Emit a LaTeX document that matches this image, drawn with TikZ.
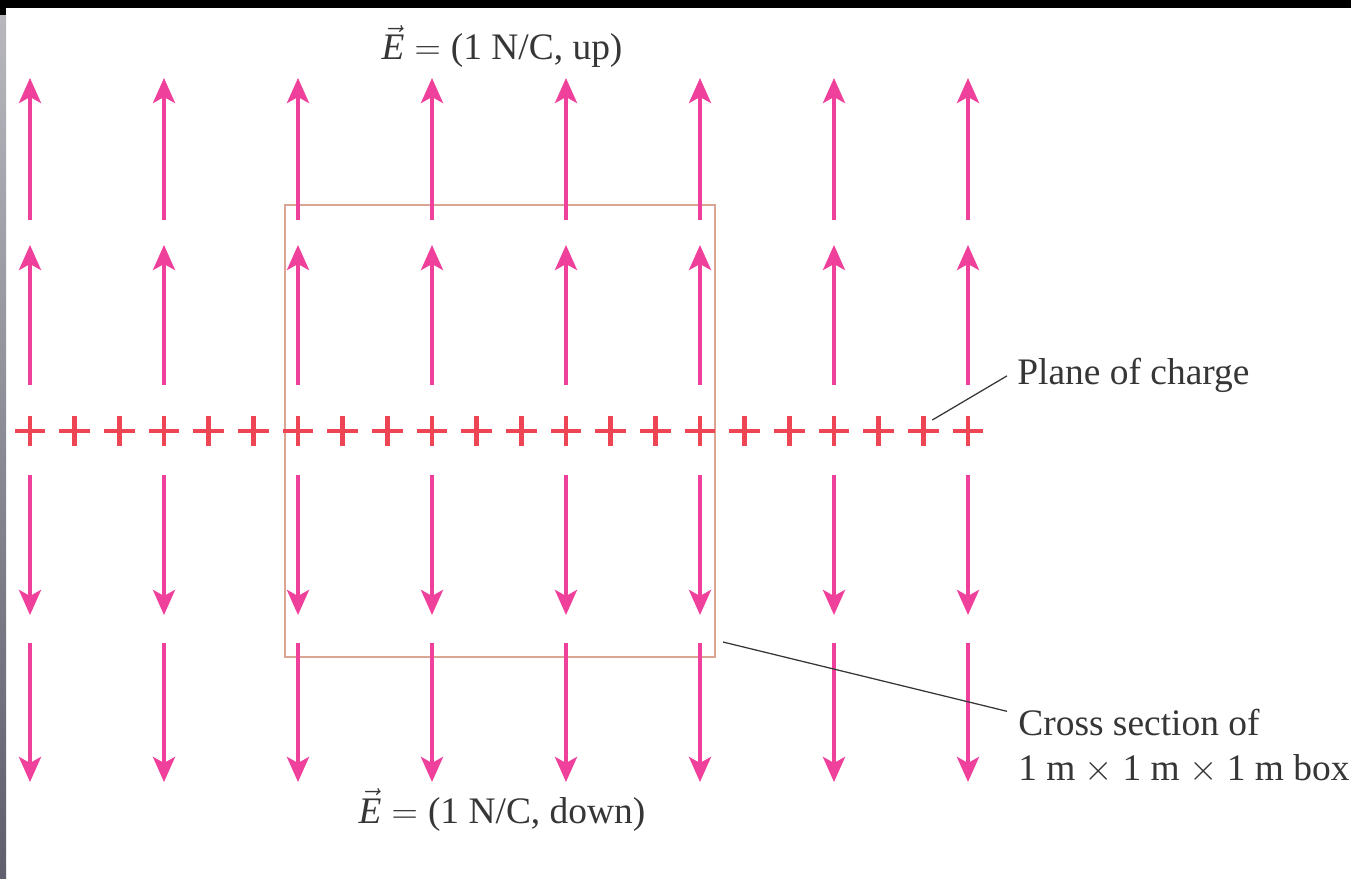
\documentclass[tikz,border=0pt]{standalone}
\usepackage{amsmath}
\usepackage{fontspec}
\setmainfont{Liberation Serif}
\usepackage{tikz}
\usetikzlibrary{arrows.meta,positioning,shapes.misc}
\definecolor{cA}{HTML}{EF409C}
\definecolor{cB}{HTML}{EE4555}
\definecolor{cC}{HTML}{DCA493}
\definecolor{cT}{HTML}{363636}
\definecolor{cS}{HTML}{5E5E6C}
\tikzset{
  fieldarrow/.style={-{Stealth[length=5mm,width=4.4mm,inset=1.2mm]},
              line width=.8mm,cA},
  charge/.style={cross out,draw=cB,line width=.9mm,rotate=45,
              minimum size=3.4mm,inner sep=0pt},
  crossbox/.style={draw=cC,line width=.4mm,minimum width=86mm,
              minimum height=90.4mm,inner sep=0pt},
  lbl/.style={text=cT,font=\fontsize{21.3}{25.6}\selectfont,inner sep=1mm},
  leader/.style={draw=cT,line width=.25mm},
}

\begin{document}
\begin{tikzpicture}[x=.2mm,y=-.2mm]
  \useasboundingbox (0,0) rectangle (1351,879);
  \fill[white] (0,0) rectangle (1351,879);
  \fill[black] (0,0) rectangle (1351,8);
  \fill[black] (0,8) rectangle (6,16);
  \shade[top color=cS!45,bottom color=cS] (0,16) rectangle (6,879);
  \node[crossbox] (cube) at (500,431) {};
  \foreach \c in {0,...,7}{
    \pgfmathsetmacro\x{30+134*\c}
    \draw[fieldarrow] (\x,220) -- (\x,78);
    \draw[fieldarrow] (\x,385) -- (\x,245);
    \draw[fieldarrow] (\x,475) -- (\x,615);
    \draw[fieldarrow] (\x,643) -- (\x,782);
  }
  \foreach \i in {0,...,21}{\node[charge] (p\i) at ({30+938/21*\i},431) {};}
  \node[lbl,anchor=base] (Eup) at (502,60)
    {$\vec{\textit{E}} = {}$(1 N/C, up)};
  \node[lbl,anchor=base] (Edown) at (502,823)
    {$\vec{\textit{E}} = {}$(1 N/C, down)};
  \node[lbl,anchor=base west] (plane) at (1012,385) {Plane of charge};
  \node[lbl,anchor=base west,align=left] (xsec) at (1013,780)
    {Cross section of\\1 m $\times$ 1 m $\times$ 1 m box};
  \draw[leader] ([xshift=-1mm]plane.west)
    -- ([xshift=1.8mm,yshift=2.2mm]p20.center);
  \draw[leader] ([xshift=-1.2mm,yshift=-1.6mm]xsec.north west)
    -- ([xshift=1.4mm,yshift=3.2mm]cube.south east);
\end{tikzpicture}
\end{document}
